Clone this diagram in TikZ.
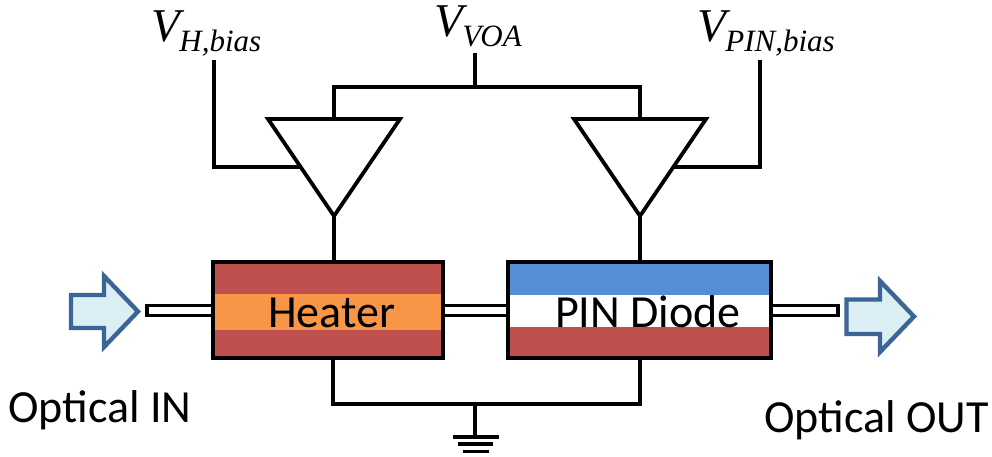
\documentclass[tikz,border=0pt]{standalone}
\usepackage{fontspec}
\setmainfont{Carlito}
\newfontfamily\vfont{Liberation Serif}[ItalicFont=Liberation Serif Italic]
\definecolor{brick}{HTML}{C0504D}
\definecolor{heat}{HTML}{F79646}
\definecolor{pinblue}{HTML}{558ED5}
\definecolor{arrowline}{HTML}{3C6494}
\definecolor{arrowfill}{HTML}{DBEEF4}
\tikzset{
  x=1pt,y=-1pt,
  wire/.style={draw=black,line width=3.8pt,line cap=round,line join=miter},
  thinwire/.style={draw=black,line width=3.8pt,line cap=butt,line join=miter},
  boxframe/.style={draw=black,line width=4pt,inner sep=0pt,minimum height=96pt},
  guide/.style={draw=black,fill=white,line width=3.8pt,inner sep=0pt,minimum height=10pt},
  bigarrow/.style={draw=arrowline,fill=arrowfill,line width=4.4pt,line join=miter,miter limit=10},
  label/.style={font=\fontsize{46}{46}\selectfont,inner sep=0pt,anchor=base,text=black},
  vlabel/.style={inner sep=0pt,anchor=base west,text=black},
}
\newcommand{\vtext}[1]{{\vfont\itshape\fontsize{47}{47}\selectfont V\kern-0.5pt\raisebox{-10.5pt}{\fontsize{31}{31}\selectfont #1}}}
\begin{document}
\begin{tikzpicture}
\useasboundingbox (0,0) rectangle (992,456);
% waveguides
\node[guide,minimum width=66pt] (gin) at (180,310.5) {};
\node[guide,minimum width=66pt] (gmid) at (475.5,310.5) {};
\node[guide,minimum width=67pt] (gout) at (804.5,310.5) {};
% heater
\fill[brick] (213,262) rectangle (443,358);
\fill[heat] (213,294) rectangle (443,329.5);
\node[boxframe,minimum width=230pt] (heater) at (328,310) {};
\node[label] (heatert) at (331.5,327) {Heater};
% PIN
\fill[pinblue] (508,262) rectangle (771,295);
\fill[brick] (508,327) rectangle (771,358);
\node[boxframe,minimum width=263pt] (pin) at (639.5,310) {};
\node[label] (pint) at (648,327) {PIN Diode};
% amplifiers
\coordinate (a1l) at (268,119);
\coordinate (a1r) at (400,119);
\coordinate (a1b) at (334,216);
\coordinate (a2l) at (574,119);
\coordinate (a2r) at (706,119);
\coordinate (a2b) at (640,216);
\draw[thinwire] (a1l) -- (a1r) -- (a1b) -- cycle;
\draw[thinwire] (a2l) -- (a2r) -- (a2b) -- cycle;
% junctions
\coordinate (tl) at (334,87);
\coordinate (tm) at (475,87);
\coordinate (tr) at (640,87);
\coordinate (vvoa) at (475,53);
\coordinate (a1t) at (334,119);
\coordinate (a2t) at (640,119);
\draw[wire,line cap=butt] (vvoa) -- (tm);
\draw[wire,line cap=butt] (a1t) -- (tl) -- (tr) -- (a2t);
\draw[wire,line cap=butt] (a1b) -- (334,260);
\draw[wire,line cap=butt] (a2b) -- (640,260);
% bias
\coordinate (vh) at (214,60);
\coordinate (vhc) at (214,167);
\coordinate (a1in) at (301,167);
\coordinate (vp) at (760,60);
\coordinate (vpc) at (760,167);
\coordinate (a2in) at (674,167);
\draw[wire,line cap=butt] (vh) -- (vhc) -- (a1in);
\draw[wire,line cap=butt] (vp) -- (vpc) -- (a2in);
% ground
\coordinate (bl) at (333,404);
\coordinate (bm) at (475,404);
\coordinate (br) at (640,404);
\coordinate (gnd) at (475,436);
\draw[wire,line cap=butt] (333,358) -- (bl) -- (br) -- (640,358);
\draw[wire,line cap=butt] (bm) -- (gnd);
\draw[wire,line cap=butt] (453,437) -- (499,437);
\draw[wire,line cap=butt] (458,444) -- (493,444);
\draw[wire,line cap=butt] (463,451.5) -- (489,451.5);
% arrows
\draw[bigarrow] (71,295) -- (104,295) -- (104,276) -- (138,311.5) -- (104,347) -- (104,328) -- (71,328) -- cycle;
\draw[bigarrow] (846.5,299.5) -- (880,299.5) -- (880,281) -- (914,316.5) -- (880,352) -- (880,334) -- (846.5,334) -- cycle;
% labels
\node[label] (oin) at (100,422) {Optical IN};
\node[label] (oout) at (876.5,432) {Optical OUT};
\node[vlabel] (lh) at (151,41) {\vtext{H,bias}};
\node[vlabel] (lv) at (434,36) {\vtext{VOA}};
\node[vlabel] (lp) at (697,41) {\vtext{PIN,bias}};
\end{tikzpicture}
\end{document}
